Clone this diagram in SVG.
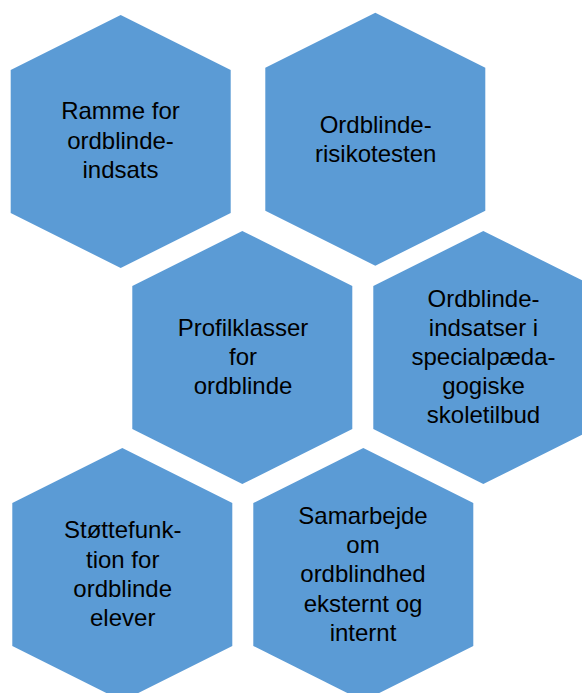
<svg xmlns="http://www.w3.org/2000/svg" width="582" height="693" viewBox="0 0 582 693">
<defs>
<style>
.hex{fill:#5B9BD5;stroke:none}
.t{font-family:"Liberation Sans",Arial,sans-serif;font-size:24px;fill:#000;text-anchor:middle}
</style>
<polygon id="hexshape" points="110,0 220,55 220,198 110,253 0,198 0,55"/>
</defs>
<rect width="582" height="693" fill="#fff"/>
<g id="connectors"></g>
<g id="n1">
<use href="#hexshape" class="hex" transform="translate(10.7,15)"/>
<text class="t" x="120.5"><tspan x="120.5" y="119.3">Ramme for</tspan><tspan x="120.5" y="148.5">ordblinde-</tspan><tspan x="120.5" y="178">indsats</tspan></text>
</g>
<g id="n2">
<use href="#hexshape" class="hex" transform="translate(265.3,12.7)"/>
<text class="t"><tspan x="375.7" y="133.3">Ordblinde-</tspan><tspan x="375.7" y="162.3">risikotesten</tspan></text>
</g>
<g id="n3">
<use href="#hexshape" class="hex" transform="translate(132.3,231)"/>
<text class="t"><tspan x="243" y="335.7">Profilklasser</tspan><tspan x="243" y="364.5">for</tspan><tspan x="243" y="394">ordblinde</tspan></text>
</g>
<g id="n4">
<use href="#hexshape" class="hex" transform="translate(373.3,231)"/>
<text class="t"><tspan x="483.5" y="306.7">Ordblinde-</tspan><tspan x="483.5" y="335.5">indsatser i</tspan><tspan x="483.5" y="364.5">specialpæda-</tspan><tspan x="483.5" y="393.5">gogiske</tspan><tspan x="483.5" y="422.7">skoletilbud</tspan></text>
</g>
<g id="n5">
<use href="#hexshape" class="hex" transform="translate(12.3,448)"/>
<text class="t"><tspan x="122.7" y="538.3">Støttefunk-</tspan><tspan x="122.7" y="567.5">tion for</tspan><tspan x="122.7" y="596.7">ordblinde</tspan><tspan x="122.7" y="625.7">elever</tspan></text>
</g>
<g id="n6">
<use href="#hexshape" class="hex" transform="translate(253.3,448)"/>
<text class="t"><tspan x="363" y="524">Samarbejde</tspan><tspan x="363" y="552.5">om</tspan><tspan x="363" y="582.3">ordblindhed</tspan><tspan x="363" y="611.7">eksternt og</tspan><tspan x="363" y="641">internt</tspan></text>
</g>
</svg>
